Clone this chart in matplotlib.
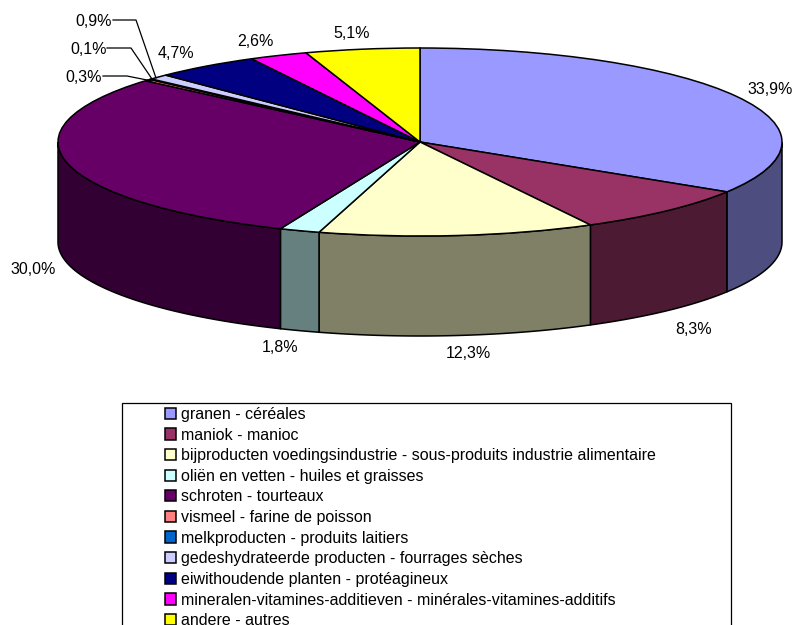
import numpy as np
import matplotlib
matplotlib.use("Agg")
import matplotlib.pyplot as plt
from matplotlib.patches import Patch, Polygon, Rectangle

plt.rcParams['font.family'] = ['Liberation Sans', 'DejaVu Sans']

categories = [
    "granen - céréales",
    "maniok - manioc",
    "bijproducten voedingsindustrie - sous-produits industrie alimentaire",
    "oliën en vetten - huiles et graisses",
    "schroten - tourteaux",
    "vismeel - farine de poisson",
    "melkproducten - produits laitiers",
    "gedeshydrateerde producten - fourrages sèches",
    "eiwithoudende planten - protéagineux",
    "mineralen-vitamines-additieven - minérales-vitamines-additifs",
    "andere - autres",
]
values = [33.9, 8.3, 12.3, 1.8, 30.0, 0.3, 0.1, 0.9, 4.7, 2.6, 5.1]
value_labels = ["33,9%", "8,3%", "12,3%", "1,8%", "30,0%", "0,3%", "0,1%", "0,9%", "4,7%", "2,6%", "5,1%"]
top_colors = ["#9999FF", "#993366", "#FFFFCC", "#CCFFFF", "#660066", "#FF8080",
              "#0066CC", "#CCCCFF", "#000080", "#FF00FF", "#FFFF00"]

W, H = 795, 625
CX, CY, RX, RY, DEPTH = 420, 142, 362, 94, 100
FS = 11.55

fig = plt.figure(figsize=(W / 100, H / 100), dpi=100)
ax = fig.add_axes([0, 0, 1, 1])
ax.set_xlim(-CX / RX, (W - CX) / RX)
ax.set_ylim((CY - H) / RY, CY / RY)
ax.axis("off")
d = DEPTH / RY


def px(x, y):
    return (x - CX) / RX, (CY - y) / RY


def darker(c):
    r = np.array(matplotlib.colors.to_rgb(c)) * 0.5
    return tuple(r)


# side wall: only the front half (90..270 degrees clockwise from the top)
edges = np.concatenate([[0], np.cumsum(values)]) / sum(values) * 360
for i, col in enumerate(top_colors):
    a0, a1 = max(edges[i], 90), min(edges[i + 1], 270)
    if a1 <= a0:
        continue
    t = np.radians(np.linspace(a0, a1, 80))
    xs, ys = np.sin(t), np.cos(t)
    pts = np.r_[np.c_[xs, ys], np.c_[xs[::-1], ys[::-1] - d]]
    ax.add_patch(Polygon(pts, closed=True, fc=darker(col), ec="black", lw=1.1, zorder=1))

# top face
ax.pie(values, colors=top_colors, startangle=90, counterclock=False, radius=1,
       frame=True, wedgeprops=dict(edgecolor="black", linewidth=1.1, zorder=2))
ax.set_xlim(-CX / RX, (W - CX) / RX)
ax.set_ylim((CY - H) / RY, CY / RY)
ax.set_aspect("auto")
ax.axis("off")

# value labels, pixel centres in the picture
label_xy = [(770.5, 89), (694, 329), (468, 353), (280, 348), (33, 269),
            (84, 77), (89, 49), (94, 21), (176, 53), (255, 41), (352, 34)]
for s, (x, y) in zip(value_labels, label_xy):
    ax.text(*px(x, y), s, ha="center", va="center", fontsize=FS, color="black", zorder=5)

# leader lines of the small slices
leaders = [
    [(103, 76), (127, 76), (152, 81)],
    [(107, 48), (131, 48), (152, 79)],
    [(113, 20), (136, 20), (156, 78)],
]
for line in leaders:
    p = np.array([px(*q) for q in line])
    ax.plot(p[:, 0], p[:, 1], color="black", lw=0.9, zorder=4)

# legend box (runs off the bottom of the picture)
fig.add_artist(Rectangle((122 / W, -10 / H), 609 / W, (H - 403 + 10) / H,
                         transform=fig.transFigure, fc="white", ec="black", lw=0.9))
handles = [Patch(fc=c, ec="black", lw=1.1) for c in top_colors]
leg = fig.legend(handles, categories, loc="upper left",
                 bbox_to_anchor=(165 / W, 1 - 407 / H), bbox_transform=fig.transFigure,
                 frameon=False, fontsize=FS, borderpad=0, borderaxespad=0,
                 handlelength=0.7, handleheight=0.7, handletextpad=0.3, labelspacing=0.35)
leg.set_zorder(10)

fig.savefig("out.png", dpi=100)
